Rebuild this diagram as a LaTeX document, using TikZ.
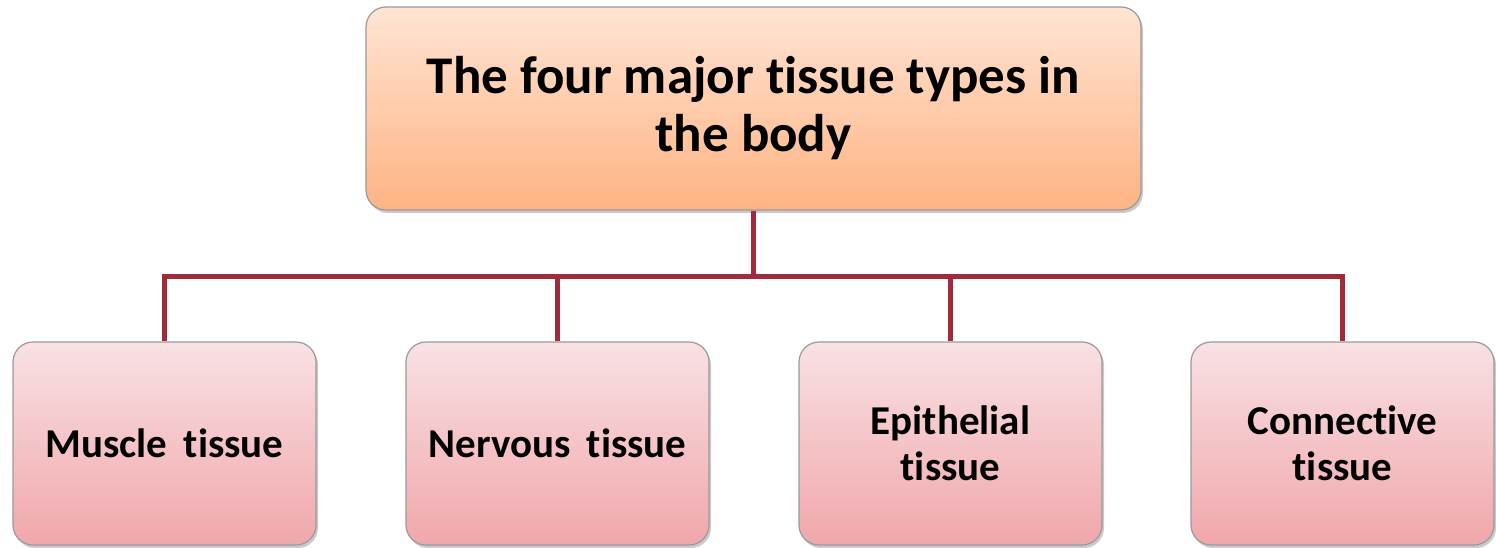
\documentclass[tikz,border=0pt]{standalone}
\usepackage{fontspec}
\setmainfont{Carlito}[Ligatures=NoCommon]
\usetikzlibrary{shadows}
\definecolor{topA}{HTML}{FFE4D4}
\definecolor{topB}{HTML}{FFB383}
\definecolor{botA}{HTML}{F9E1E4}
\definecolor{botB}{HTML}{F0A7AB}
\definecolor{edgegray}{HTML}{9A9A9A}
\definecolor{conn}{HTML}{A22A3B}
\tikzset{
  topbox/.style={draw=edgegray, line width=1.2pt, rounded corners=20pt,
    top color=topA, bottom color=topB, minimum width=775pt, minimum height=203pt,
    align=center, font=\fontsize{53}{58}\selectfont\bfseries, inner sep=0pt,
    drop shadow={shadow xshift=2pt, shadow yshift=-3pt, opacity=0.35, fill=black!60}},
  tissuebox/.style={draw=edgegray, line width=1.2pt, rounded corners=20pt,
    top color=botA, bottom color=botB, minimum width=303pt, minimum height=203pt,
    align=center, font=\fontsize{41}{46}\selectfont\bfseries, inner sep=0pt,
    drop shadow={shadow xshift=2pt, shadow yshift=-3pt, opacity=0.35, fill=black!60}},
  connector/.style={draw=conn, line width=5pt}
}
\begin{document}
\begin{tikzpicture}[x=1pt,y=-1pt]
\useasboundingbox (0,0) rectangle (1496,547);
\node[topbox] (top) at (753.5,108.5) {The four major tissue types in\\the body};
\node[tissuebox] (m) at (164.5,443.5) {Muscle\hspace{0.4em}tissue};
\node[tissuebox] (n) at (557.5,443.5) {Nervous\hspace{0.4em}tissue};
\node[tissuebox] (e) at (950.5,443.5) {Epithelial\\tissue};
\node[tissuebox] (c) at (1342.5,443.5) {Connective\\tissue};
\coordinate (hub) at (753.5,276);
\draw[connector] (top.south) -- (hub);
\draw[connector] (m.north) |- (hub);
\draw[connector] (n.north) |- (hub);
\draw[connector] (e.north) |- (hub);
\draw[connector] (c.north) |- (hub);
\end{tikzpicture}
\end{document}
